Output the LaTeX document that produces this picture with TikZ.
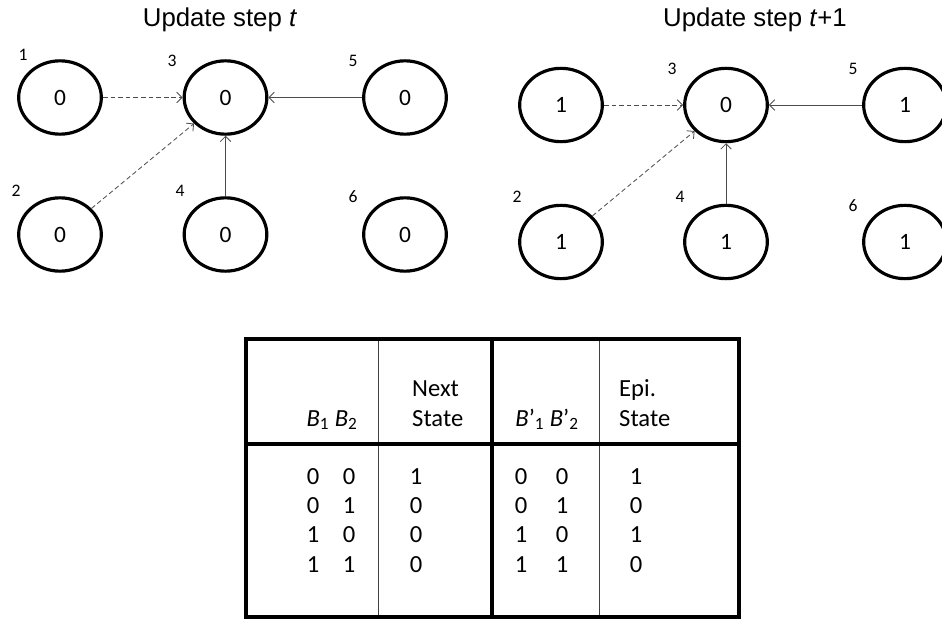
\documentclass[tikz,border=0pt]{standalone}
\usepackage{fontspec}
\setmainfont{Carlito}
\newfontfamily\arialfont{Liberation Sans}
\usetikzlibrary{shapes.geometric,arrows.meta}

\tikzset{
  cell/.style = {ellipse, draw, line width=2.7pt, minimum width=2.48cm, minimum height=2.2cm,
                 inner sep=0pt, font=\fontsize{20}{22}\selectfont},
  num/.style = {font=\fontsize{15}{16}\selectfont, inner sep=0pt, anchor=base},
  title/.style = {font=\arialfont\fontsize{22}{24}\selectfont, inner sep=0pt, anchor=base},
  link/.style = {draw=black!70, line width=0.7pt, -{Straight Barb[length=4.5pt,width=9pt]}},
  weak/.style = {link, dash pattern=on 4pt off 2.5pt},
  head/.style = {font=\fontsize{21}{25}\selectfont, inner sep=0pt, align=left},
  entry/.style = {font=\fontsize{21}{25}\selectfont, inner sep=0pt, align=center, anchor=base},
  rule/.style = {line width=2.6pt},
  thinrule/.style = {draw=black!75, line width=0.8pt}
}

\begin{document}
\begin{tikzpicture}[x=0.03cm, y=-0.03cm]
	%	frame
	\useasboundingbox (0,0) rectangle (942,621);
	\clip (0,0) rectangle (942,621);
	
	%	update step t
	\node[title] (titleA) at (220,27) {Update step \textit{t}};
	
	\node[cell] (a1) at (60,97.5) {0};
	\node[cell] (a3) at (225.5,97.5) {0};
	\node[cell] (a5) at (405,97.5) {0};
	\node[cell] (a2) at (60,234.5) {0};
	\node[cell] (a4) at (225.5,234.5) {0};
	\node[cell] (a6) at (405,234.5) {0};
	
	\node[num] (na1) at (23,61) {1};
	\node[num] (na3) at (172,67) {3};
	\node[num] (na5) at (353,67) {5};
	\node[num] (na2) at (16,197) {2};
	\node[num] (na4) at (180,197) {4};
	\node[num] (na6) at (353,203) {6};
	
	\draw[weak] (a1) -- (a3);
	\draw[weak] (a2) -- (a3);
	\draw[link] (a4) -- (a3);
	\draw[link] (a5) -- (a3);
	
	%	update step t+1
	\node[title] (titleB) at (755,27) {Update step \textit{t}+1};
	
	\node[cell] (b1) at (561,105) {1};
	\node[cell] (b3) at (726,105) {0};
	\node[cell] (b5) at (905,105) {1};
	\node[cell] (b2) at (561,242) {1};
	\node[cell] (b4) at (726,242) {1};
	\node[cell] (b6) at (905,242) {1};
	
	\node[num] (nb3) at (672,75) {3};
	\node[num] (nb5) at (853,75) {5};
	\node[num] (nb2) at (517,203) {2};
	\node[num] (nb4) at (680,203) {4};
	\node[num] (nb6) at (853,212) {6};
	
	\draw[weak] (b1) -- (b3);
	\draw[weak] (b2) -- (b3);
	\draw[link] (b4) -- (b3);
	\draw[link] (b5) -- (b3);
	
	%	table
	\draw[thinrule] (378,339) -- (378,617);
	\draw[thinrule] (599,339) -- (599,617);
	\draw[rule] (246,339) rectangle (739,617);
	\draw[rule] (246,444) -- (739,444);
	\draw[rule] (492,339) -- (492,617);
	
	\node[head, anchor=base] (hB) at (332,426) {\textit{B}\textsubscript{1} \textit{B}\textsubscript{2}};
	\node[head, anchor=base west] (hNext) at (412,426) {Next\\State};
	\node[head, anchor=base] (hBp) at (547,426) {\textit{B}’\textsubscript{1} \textit{B}’\textsubscript{2}};
	\node[head, anchor=base west] (hEpi) at (619,426) {Epi.\\State};
	
	\node[entry] (cB1) at (313,572) {0\\0\\1\\1};
	\node[entry] (cB2) at (349,572) {0\\1\\0\\1};
	\node[entry] (cNext) at (416,572) {1\\0\\0\\0};
	\node[entry] (cBp1) at (521,572) {0\\0\\1\\1};
	\node[entry] (cBp2) at (562,572) {0\\1\\0\\1};
	\node[entry] (cEpi) at (636,572) {1\\0\\1\\0};
\end{tikzpicture}
\end{document}
